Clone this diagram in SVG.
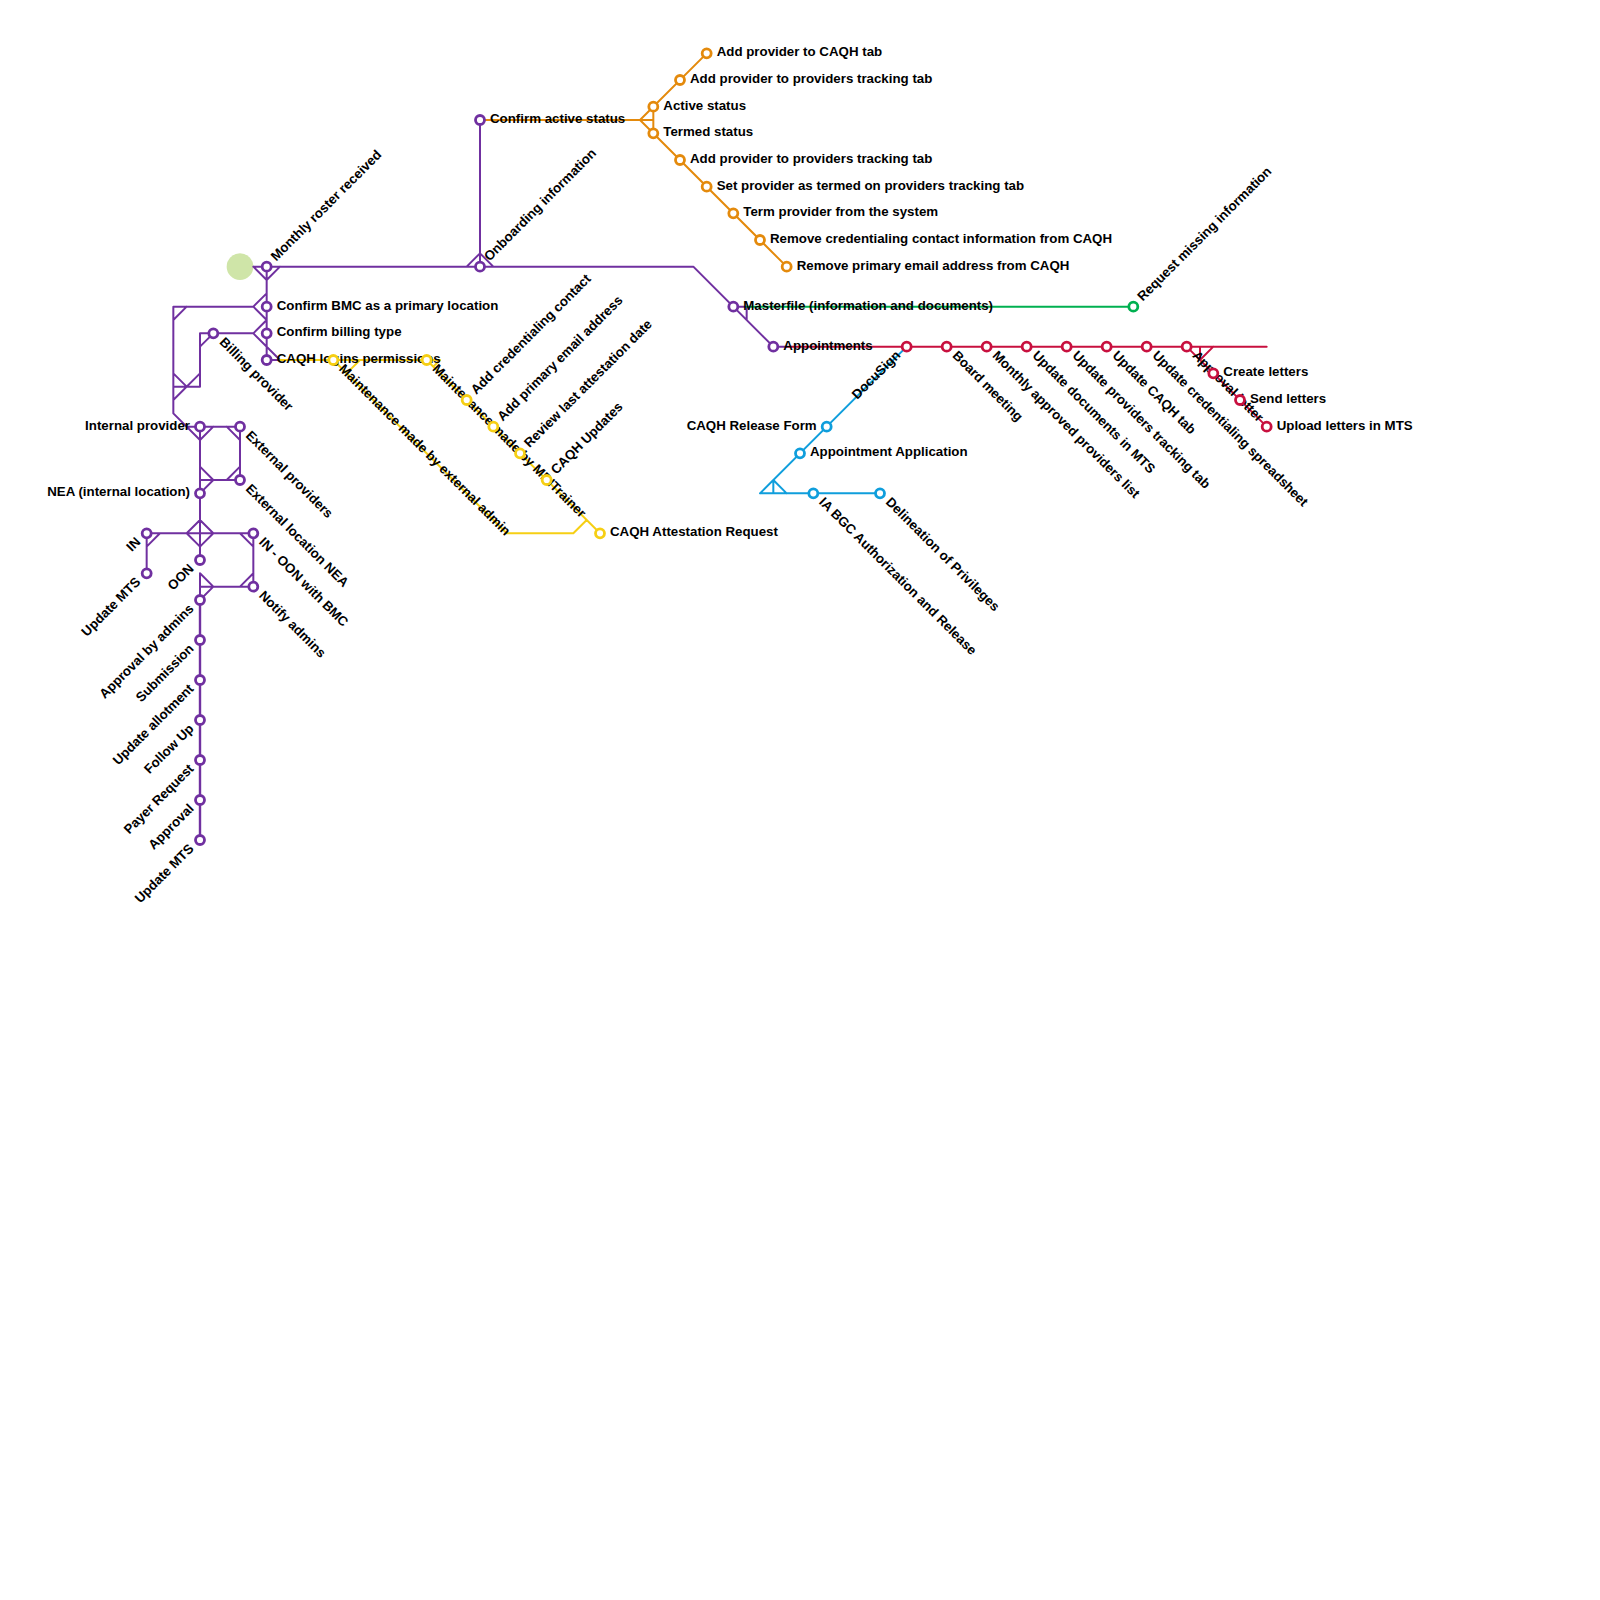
<svg xmlns="http://www.w3.org/2000/svg" width="1600" height="1600" viewBox="0 0 1600 1600">
<defs><style>
.l{fill:none;stroke-width:.15;stroke-linecap:round;stroke-linejoin:round}
.p{stroke:#7030A0}.o{stroke:#E48A0C}.y{stroke:#F6CF14}.c{stroke:#C8103F}.b{stroke:#0F9EDC}.g{stroke:#00B050}
text{font-family:"Liberation Sans",Arial,sans-serif;font-size:13.3px;font-weight:700;fill:#000}
.e{text-anchor:end}
circle.n{fill:#fff;stroke-width:2.8}
.np{stroke:#7030A0}.no{stroke:#E48A0C}.ny{stroke:#F6CF14}.nc{stroke:#C8103F}.nb{stroke:#0F9EDC}.ng{stroke:#00B050}
</style></defs>
<rect width="1600" height="1600" fill="#fff"/>
<circle id="start" cx="240" cy="266.67" r="13.33" fill="#CFE5A8"/>
<g id="connectors">
<g transform="scale(13.3333)">
<path class="l p" d="M19 20H52L58 26H59M19 20L20 21L21 20M20 20V27H21M20 22L19 23L20 24M19 23H13V31L15 33L16 32M13 24L14 23M14 32H18V36M17 32L18 33M15 32V42M15 43V45M15 35L16 36L15 37M15 36H18M17 36L18 35M19 25H15V29H13M15 26L16 25M13 28L14 29M13 30L15 28M20 24L19 25L21 27M11 43V40H19V44H15M11 41L12 40M14 40L15 39L16 40L15 41ZM18 40L19 41M18 44L19 43M15 43L16 44L15 45M36 20V9M35 20L36 19L37 20M55 23H56V24"/>
<path class="l p" style="stroke-width:.18" d="M15 45V63"/>
<path class="l o" d="M36 9H49M49 8V10M48 9L53 4M48 9L59 20"/>
<path class="l y" d="M21 27H33L32.5 27.5M25 27L38 40H43L44 39M26 28L27 27M32 27L45 40"/>
<path class="l g" d="M56 23H85"/>
<path class="l c" d="M59 26H95M89 26L95 32M90 26V27L91 26"/>
<path class="l b" d="M57 37H66M57 37L58 36L59 37M58 36V37M57 37L68 26"/>
</g>
</g>
<g id="labels">
<text x="276.7" y="309.7">Confirm BMC as a primary location</text>
<text x="276.7" y="336.3">Confirm billing type</text>
<text x="276.7" y="363">CAQH logins permissions</text>
<text x="490" y="123">Confirm active status</text>
<text x="716.7" y="56.3">Add provider to CAQH tab</text>
<text x="690" y="83">Add provider to providers tracking tab</text>
<text x="663.3" y="109.7">Active status</text>
<text x="663.3" y="136.3">Termed status</text>
<text x="690" y="163">Add provider to providers tracking tab</text>
<text x="716.7" y="189.7">Set provider as termed on providers tracking tab</text>
<text x="743.3" y="216.3">Term provider from the system</text>
<text x="770" y="243">Remove credentialing contact information from CAQH</text>
<text x="796.7" y="269.7">Remove primary email address from CAQH</text>
<text x="743.3" y="309.7">Masterfile (information and documents)</text>
<text x="783.3" y="349.7">Appointments</text>
<text x="1223.3" y="376.3">Create letters</text>
<text x="1250" y="403">Send letters</text>
<text x="1276.7" y="429.7">Upload letters in MTS</text>
<text x="610" y="536.3">CAQH Attestation Request</text>
<text x="810" y="456.3">Appointment Application</text>
<text class="e" x="190" y="429.7">Internal provider</text>
<text class="e" x="190" y="496.3">NEA (internal location)</text>
<text class="e" x="816.7" y="429.7">CAQH Release Form</text>
<text transform="translate(276.2 261.7) rotate(-45)">Monthly roster received</text>
<text transform="translate(489.5 261.7) rotate(-45)">Onboarding information</text>
<text transform="translate(476.2 395) rotate(-45)">Add credentialing contact</text>
<text transform="translate(502.8 421.7) rotate(-45)">Add primary email address</text>
<text transform="translate(529.5 448.3) rotate(-45)">Review last attestation date</text>
<text transform="translate(556.2 475) rotate(-45)">CAQH Updates</text>
<text transform="translate(1142.8 301.7) rotate(-45)">Request missing information</text>
<text transform="translate(218.8 342.8) rotate(45)">Billing provider</text>
<text transform="translate(245 436.2) rotate(45)">External providers</text>
<text transform="translate(245 489.5) rotate(45)">External location NEA</text>
<text transform="translate(258.3 542.8) rotate(45)">IN - OON with BMC</text>
<text transform="translate(258.3 596.2) rotate(45)">Notify admins</text>
<text transform="translate(338.3 369.5) rotate(45)">Maintenance made by external admin</text>
<text transform="translate(431.7 369.5) rotate(45)">Maintenance made by MDITrainer</text>
<text transform="translate(951.7 356.2) rotate(45)">Board meeting</text>
<text transform="translate(991.7 356.2) rotate(45)">Monthly approved providers list</text>
<text transform="translate(1031.7 356.2) rotate(45)">Update documents in MTS</text>
<text transform="translate(1071.7 356.2) rotate(45)">Update providers tracking tab</text>
<text transform="translate(1111.7 356.2) rotate(45)">Update CAQH tab</text>
<text transform="translate(1151.7 356.2) rotate(45)">Update credentialing spreadsheet</text>
<text transform="translate(1191.7 356.2) rotate(45)">Approval letter</text>
<text transform="translate(818.3 502.8) rotate(45)">IA BGC Authorization and Release</text>
<text transform="translate(885 502.8) rotate(45)">Delineation of Privileges</text>
<text class="e" transform="translate(141.2 542.8) rotate(-45)">IN</text>
<text class="e" transform="translate(141.2 582.8) rotate(-45)">Update MTS</text>
<text class="e" transform="translate(194.5 569.5) rotate(-45)">OON</text>
<text class="e" transform="translate(194.5 609.5) rotate(-45)">Approval by admins</text>
<text class="e" transform="translate(194.5 649.5) rotate(-45)">Submission</text>
<text class="e" transform="translate(194.5 689.5) rotate(-45)">Update allotment</text>
<text class="e" transform="translate(194.5 729.5) rotate(-45)">Follow Up</text>
<text class="e" transform="translate(194.5 769.5) rotate(-45)">Payer Request</text>
<text class="e" transform="translate(194.5 809.5) rotate(-45)">Approval</text>
<text class="e" transform="translate(194.5 849.5) rotate(-45)">Update MTS</text>
<text class="e" transform="translate(901.2 356) rotate(-45)">DocuSign</text>
</g>
<g id="nodes">
<g id="n1"><circle class="n np" cx="266.67" cy="266.67" r="4.5"/></g>
<g id="n2"><circle class="n np" cx="266.67" cy="306.67" r="4.5"/></g>
<g id="n3"><circle class="n np" cx="266.67" cy="333.33" r="4.5"/></g>
<g id="n4"><circle class="n np" cx="266.67" cy="360" r="4.5"/></g>
<g id="n5"><circle class="n np" cx="213.33" cy="333.33" r="4.5"/></g>
<g id="n6"><circle class="n np" cx="200" cy="426.67" r="4.5"/></g>
<g id="n7"><circle class="n np" cx="240" cy="426.67" r="4.5"/></g>
<g id="n8"><circle class="n np" cx="240" cy="480" r="4.5"/></g>
<g id="n9"><circle class="n np" cx="200" cy="493.33" r="4.5"/></g>
<g id="n10"><circle class="n np" cx="146.67" cy="533.33" r="4.5"/></g>
<g id="n11"><circle class="n np" cx="146.67" cy="573.33" r="4.5"/></g>
<g id="n12"><circle class="n np" cx="253.33" cy="533.33" r="4.5"/></g>
<g id="n13"><circle class="n np" cx="253.33" cy="586.67" r="4.5"/></g>
<g id="n14"><circle class="n np" cx="200" cy="560" r="4.5"/></g>
<g id="n15"><circle class="n np" cx="200" cy="600" r="4.5"/></g>
<g id="n16"><circle class="n np" cx="200" cy="640" r="4.5"/></g>
<g id="n17"><circle class="n np" cx="200" cy="680" r="4.5"/></g>
<g id="n18"><circle class="n np" cx="200" cy="720" r="4.5"/></g>
<g id="n19"><circle class="n np" cx="200" cy="760" r="4.5"/></g>
<g id="n20"><circle class="n np" cx="200" cy="800" r="4.5"/></g>
<g id="n21"><circle class="n np" cx="200" cy="840" r="4.5"/></g>
<g id="n22"><circle class="n np" cx="480" cy="266.67" r="4.5"/></g>
<g id="n23"><circle class="n np" cx="480" cy="120" r="4.5"/></g>
<g id="n24"><circle class="n np" cx="733.33" cy="306.67" r="4.5"/></g>
<g id="n25"><circle class="n np" cx="773.33" cy="346.67" r="4.5"/></g>
<g id="o1"><circle class="n no" cx="706.67" cy="53.33" r="4.5"/></g>
<g id="o2"><circle class="n no" cx="680" cy="80" r="4.5"/></g>
<g id="o3"><circle class="n no" cx="653.33" cy="106.67" r="4.5"/></g>
<g id="o4"><circle class="n no" cx="653.33" cy="133.33" r="4.5"/></g>
<g id="o5"><circle class="n no" cx="680" cy="160" r="4.5"/></g>
<g id="o6"><circle class="n no" cx="706.67" cy="186.67" r="4.5"/></g>
<g id="o7"><circle class="n no" cx="733.33" cy="213.33" r="4.5"/></g>
<g id="o8"><circle class="n no" cx="760" cy="240" r="4.5"/></g>
<g id="o9"><circle class="n no" cx="786.67" cy="266.67" r="4.5"/></g>
<g id="y1"><circle class="n ny" cx="333.33" cy="360" r="4.5"/></g>
<g id="y2"><circle class="n ny" cx="426.67" cy="360" r="4.5"/></g>
<g id="y3"><circle class="n ny" cx="466.67" cy="400" r="4.5"/></g>
<g id="y4"><circle class="n ny" cx="493.33" cy="426.67" r="4.5"/></g>
<g id="y5"><circle class="n ny" cx="520" cy="453.33" r="4.5"/></g>
<g id="y6"><circle class="n ny" cx="546.67" cy="480" r="4.5"/></g>
<g id="y7"><circle class="n ny" cx="600" cy="533.33" r="4.5"/></g>
<g id="g1"><circle class="n ng" cx="1133.33" cy="306.67" r="4.5"/></g>
<g id="c1"><circle class="n nc" cx="906.67" cy="346.67" r="4.5"/></g>
<g id="c2"><circle class="n nc" cx="946.67" cy="346.67" r="4.5"/></g>
<g id="c3"><circle class="n nc" cx="986.67" cy="346.67" r="4.5"/></g>
<g id="c4"><circle class="n nc" cx="1026.67" cy="346.67" r="4.5"/></g>
<g id="c5"><circle class="n nc" cx="1066.67" cy="346.67" r="4.5"/></g>
<g id="c6"><circle class="n nc" cx="1106.67" cy="346.67" r="4.5"/></g>
<g id="c7"><circle class="n nc" cx="1146.67" cy="346.67" r="4.5"/></g>
<g id="c8"><circle class="n nc" cx="1186.67" cy="346.67" r="4.5"/></g>
<g id="c9"><circle class="n nc" cx="1213.33" cy="373.33" r="4.5"/></g>
<g id="c10"><circle class="n nc" cx="1240" cy="400" r="4.5"/></g>
<g id="c11"><circle class="n nc" cx="1266.67" cy="426.67" r="4.5"/></g>
<g id="b1"><circle class="n nb" cx="826.67" cy="426.67" r="4.5"/></g>
<g id="b2"><circle class="n nb" cx="800" cy="453.33" r="4.5"/></g>
<g id="b3"><circle class="n nb" cx="813.33" cy="493.33" r="4.5"/></g>
<g id="b4"><circle class="n nb" cx="880" cy="493.33" r="4.5"/></g>
</g>
</svg>
